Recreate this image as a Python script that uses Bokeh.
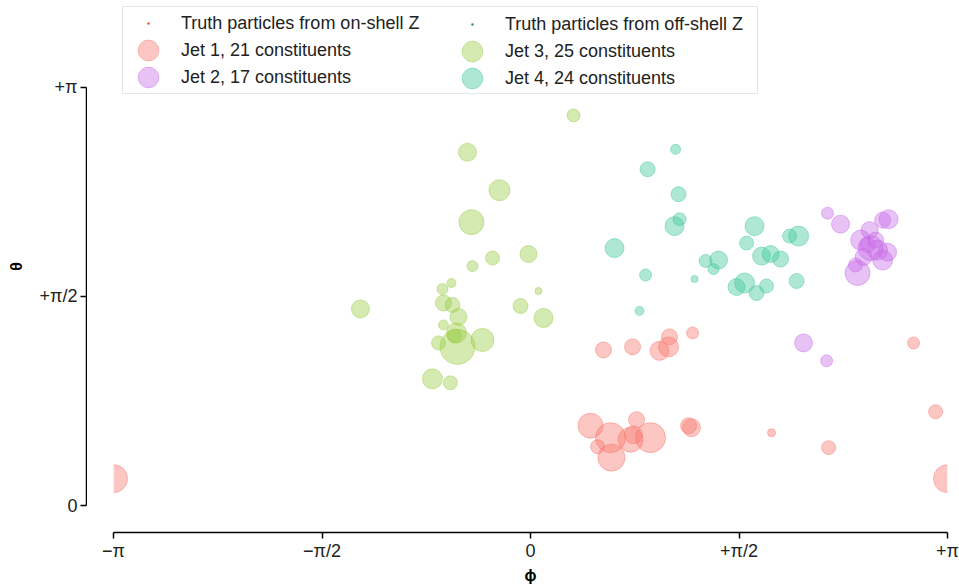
import math
from bokeh.plotting import figure
from bokeh.layouts import row
from bokeh.models import (ColumnDataSource, FixedTicker, CustomJSTickFormatter,
                          Legend, LegendItem, Range1d)
from bokeh.embed import file_html
from bokeh.resources import INLINE

PI = math.pi
NAN = float("nan")

# ---------------- data (phi, theta, constituent pT) ----------------
jet1_phi = [0.550, 0.769, 0.972, 1.047, 1.040, 1.221, 0.452, 0.603, 0.505, 0.610,
            0.799, 0.754, 0.776, 0.904, 1.191, 1.213, 1.816, 2.246, 2.886, 3.052,
            -PI, PI]
jet1_theta = [1.169, 1.192, 1.162, 1.267, 1.192, 1.297, 0.600, 0.510, 0.442, 0.360,
              0.645, 0.495, 0.532, 0.510, 0.600, 0.585, 0.547, 0.435, 1.222, 0.705,
              0.202, 0.202]
jet1_pt = [16, 16, 19, 16, 20, 12, 25, 30, 14, 27,
           16, 25, 18, 30, 16, 18, 8, 14, 12, 14,
           28, 28]

jet2_phi = [2.238, 2.336, 2.698, 2.653, 2.555, 2.487, 2.562, 2.615, 2.690, 2.653,
            2.509, 2.464, 2.540, 2.600, 2.449, 2.057, 2.231]
jet2_theta = [2.196, 2.114, 2.151, 2.144, 2.069, 1.994, 1.934, 1.919, 1.904, 1.844,
              1.867, 1.747, 1.957, 1.994, 1.807, 1.222, 1.087]
jet2_pt = [12, 18, 19, 16, 17, 20, 25, 20, 18, 20,
           17, 25, 15, 16, 14, 18, 12]

jet3_phi = [0.324, -0.475, -0.234, -0.445, -0.015, -0.286, -0.437, 0.060, -1.281, -0.595,
            -0.663, -0.656, -0.588, -0.075, 0.098, -0.543, -0.656, -0.558, -0.362, -0.693,
            -0.550, -0.573, -0.739, -0.603]
jet3_theta = [2.931, 2.654, 2.369, 2.129, 1.889, 1.859, 1.799, 1.612, 1.477, 1.672,
              1.627, 1.522, 1.507, 1.499, 1.409, 1.417, 1.357, 1.297, 1.244, 1.222,
              1.192, 1.274, 0.952, 0.922]
jet3_pt = [13, 18, 21, 25, 17, 14, 11, 7, 18, 9,
           11, 16, 15, 15, 19, 17, 10, 20, 23, 14,
           35, 14, 20, 14]

jet4_phi = [1.093, 0.882, 1.115, 1.123, 1.085, 0.633, 1.688, 1.628, 1.952, 2.020,
            1.741, 1.809, 1.884, 1.319, 1.417, 1.379, 0.867, 1.236, 1.613, 1.552,
            1.703, 1.778, 2.005, 0.821]
jet4_theta = [2.676, 2.526, 2.339, 2.151, 2.099, 1.934, 2.099, 1.972, 2.024, 2.024,
              1.874, 1.889, 1.852, 1.837, 1.844, 1.777, 1.732, 1.702, 1.672, 1.642,
              1.597, 1.649, 1.687, 1.462]
jet4_pt = [10, 15, 15, 13, 19, 19, 19, 14, 14, 20,
           18, 17, 16, 13, 18, 11, 12, 7, 20, 17,
           15, 14, 15, 9]

# no truth particle is visible outside the jet discs
truth_on_phi, truth_on_theta = [], []
truth_off_phi, truth_off_theta = [], []

jet_labels = ["Jet 1, 21 constituents", "Jet 2, 17 constituents",
              "Jet 3, 25 constituents", "Jet 4, 24 constituents"]
truth_labels = ["Truth particles from on-shell Z", "Truth particles from off-shell Z"]

x_ticks = [-PI, -PI / 2, 0.0, PI / 2, PI]
x_tick_labels = ["\u2212\u03c0", "\u2212\u03c0/2", "0", "+\u03c0/2", "+\u03c0"]
y_ticks = [0.0, PI / 2, PI]
y_tick_labels = ["0", "+\u03c0/2", "+\u03c0"]

# ---------------- styling ----------------
FONT = "Liberation Sans"
jet_colors = ["#f8766d", "#c86be8", "#99cc44", "#3dc79b"]
truth_colors = ["#e8602c", "#2a9d5c"]
PX_PER_GEV = 1.0
FILL_A, LINE_A = 0.42, 0.45

y_range = Range1d(-0.2024, 3.794)

# main data area: phi in [-pi, pi]
p = figure(width=872, height=586, output_backend="svg", toolbar_location=None,
           x_range=Range1d(-PI, PI), y_range=y_range,
           min_border_left=26, min_border_right=12, min_border_top=0, min_border_bottom=53)
p.outline_line_color = None
p.grid.visible = False
p.yaxis.visible = False

# separate panel carrying the (outward offset) theta axis
pa = figure(width=87, height=586, output_backend="svg", toolbar_location=None,
            x_range=Range1d(0, 1), y_range=y_range,
            min_border_left=86, min_border_right=0, min_border_top=0, min_border_bottom=53)
pa.outline_line_color = None
pa.grid.visible = False
pa.xaxis.visible = False

renderers = []
for phi, th, pt, col in zip([jet1_phi, jet2_phi, jet3_phi, jet4_phi],
                            [jet1_theta, jet2_theta, jet3_theta, jet4_theta],
                            [jet1_pt, jet2_pt, jet3_pt, jet4_pt], jet_colors):
    inner = [i for i, v in enumerate(phi) if abs(v) < PI - 1e-9]
    edge = [i for i, v in enumerate(phi) if abs(v) >= PI - 1e-9]
    src = ColumnDataSource(dict(x=[phi[i] for i in inner], y=[th[i] for i in inner],
                                s=[pt[i] * PX_PER_GEV for i in inner]))
    r = p.ellipse(x="x", y="y", width="s", height="s", width_units="screen",
                  height_units="screen", source=src, fill_color=col, fill_alpha=FILL_A,
                  line_color=col, line_alpha=LINE_A, line_width=1)
    renderers.append(r)
    if edge:
        # constituents sitting on the phi = +-pi seam: only the half inside the window shows
        esrc = ColumnDataSource(dict(
            x=[phi[i] for i in edge], y=[th[i] for i in edge],
            r=[pt[i] * PX_PER_GEV / 2 for i in edge],
            a0=[-PI / 2 if phi[i] < 0 else PI / 2 for i in edge],
            a1=[PI / 2 if phi[i] < 0 else 3 * PI / 2 for i in edge]))
        p.wedge(x="x", y="y", radius="r", radius_units="screen", start_angle="a0",
                end_angle="a1", direction="anticlock", source=esrc,
                fill_color=col, fill_alpha=FILL_A, line_color=None)
        p.arc(x="x", y="y", radius="r", radius_units="screen", start_angle="a0",
              end_angle="a1", direction="anticlock", source=esrc,
              line_color=col, line_alpha=LINE_A, line_width=1)

if truth_on_phi:
    p.scatter(x=truth_on_phi, y=truth_on_theta, marker="circle", size=3,
              fill_color=truth_colors[0], line_color=None)
if truth_off_phi:
    p.scatter(x=truth_off_phi, y=truth_off_theta, marker="circle", size=3,
              fill_color=truth_colors[1], line_color=None)
# legend proxies (one undrawable point so the legend draws the swatch)
leg_on = p.scatter(x=[NAN], y=[NAN], marker="dot", size=8,
                   fill_color=truth_colors[0], line_color=truth_colors[0])
leg_off = p.scatter(x=[NAN], y=[NAN], marker="dot", size=8,
                    fill_color=truth_colors[1], line_color=truth_colors[1])

FMT_CODE = """
let b = 0, bd = Infinity;
for (let i = 0; i < tv.length; i++) { const d = Math.abs(tv[i] - tick); if (d < bd) { bd = d; b = i; } }
return tl[b];
"""
xfmt = CustomJSTickFormatter(args=dict(tv=x_ticks, tl=x_tick_labels), code=FMT_CODE)
yfmt = CustomJSTickFormatter(args=dict(tv=y_ticks, tl=y_tick_labels), code=FMT_CODE)

for ax, ticks, fmt, bounds, lab in [(p.xaxis, x_ticks, xfmt, (-PI, PI), "\u03d5"),
                                     (pa.yaxis, y_ticks, yfmt, (0, PI), "\u03b8")]:
    ax.ticker = FixedTicker(ticks=ticks, minor_ticks=[])
    ax.formatter = fmt
    ax.bounds = bounds
    ax.axis_label = lab
    ax.axis_label_text_font = FONT
    ax.axis_label_text_font_style = "bold"
    ax.axis_label_text_font_size = "16px"
    ax.axis_label_text_color = "black"
    ax.major_label_text_font = FONT
    ax.major_label_text_font_size = "18px"
    ax.major_label_text_color = "#222222"
    ax.axis_line_color = "black"
    ax.axis_line_width = 1.5
    ax.major_tick_line_color = "black"
    ax.major_tick_line_width = 1.5
    ax.major_tick_out = 6
    ax.major_tick_in = 0
    ax.minor_tick_line_color = None
p.xaxis.major_label_standoff = 2
p.xaxis.axis_label_standoff = 3
pa.yaxis.major_label_standoff = 3
pa.yaxis.axis_label_standoff = 12

LEG_STYLE = dict(orientation="vertical", label_text_font=FONT, label_text_font_size="18px",
                 label_text_color="#222222", glyph_height=26, glyph_width=44,
                 label_height=26, label_standoff=11, spacing=1, padding=3, margin=0)

legend1 = Legend(items=[LegendItem(label=truth_labels[0], renderers=[leg_on]),
                        LegendItem(label=jet_labels[0], renderers=[renderers[0]]),
                        LegendItem(label=jet_labels[1], renderers=[renderers[1]])],
                 location=(9, 438), label_width=573,
                 border_line_color="#cccccc", border_line_width=1.5,
                 background_fill_color="white", background_fill_alpha=0.85, **LEG_STYLE)
legend2 = Legend(items=[LegendItem(label=truth_labels[1], renderers=[leg_off]),
                        LegendItem(label=jet_labels[2], renderers=[renderers[2]]),
                        LegendItem(label=jet_labels[3], renderers=[renderers[3]])],
                 location=(337, 441), border_line_color=None,
                 background_fill_alpha=0.0, **LEG_STYLE)
p.add_layout(legend1)
p.add_layout(legend2)

layout = row(pa, p)
open("out.html", "w").write(file_html(layout, INLINE))
